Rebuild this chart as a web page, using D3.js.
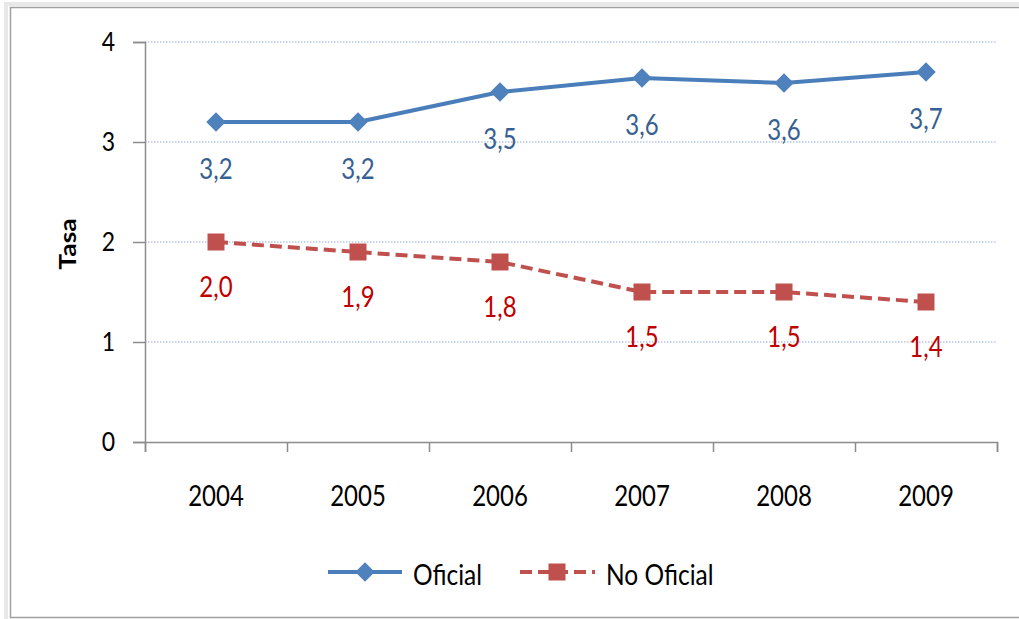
<!DOCTYPE html>
<html><head><meta charset="utf-8">
<script src="https://cdn.jsdelivr.net/npm/d3@7/dist/d3.min.js"></script>
<style>
html,body{margin:0;padding:0;background:#fff;overflow:hidden;}
svg{display:block;font-family:Lato,"Open Sans",sans-serif;}
</style></head>
<body>
<svg id="chart" width="1019" height="619"></svg>
<script>
const years = ["2004","2005","2006","2007","2008","2009"];
const oficial = [3.2, 3.2, 3.5, 3.64, 3.59, 3.7];
const oficialLabels = ["3,2","3,2","3,5","3,6","3,6","3,7"];
const noOficial = [2.0, 1.9, 1.8, 1.5, 1.5, 1.4];
const noOficialLabels = ["2,0","1,9","1,8","1,5","1,5","1,4"];
const yTicks = [0, 1, 2, 3, 4];
const seriesNames = ["Oficial", "No Oficial"];
const yTitle = "Tasa";

const svg = d3.select("#chart");
const SY = 1.2; // vertical text stretch

// outer frame (left, top, bottom edges only; right edge is off-canvas)
svg.append("path").attr("d", "M1019,4 H6 V619")
  .attr("fill","none").attr("stroke","#e8e8e8").attr("stroke-width",4);
svg.append("path").attr("d", "M1019,7.5 H10.5 V617.5 H1019")
  .attr("fill","none").attr("stroke","#a0a0a0").attr("stroke-width",1.5);

const pLeft = 145, pRight = 997, pTop = 42, pBottom = 442;
const x = d3.scaleBand().domain(years).range([pLeft, pRight]).paddingInner(0).paddingOuter(0);
const xb = d3.scaleLinear().domain([0, years.length]).range([pLeft, pRight]);
const y = d3.scaleLinear().domain([0, 4]).range([pBottom, pTop]);
const cx = d => x(d) + x.bandwidth() / 2;

// gridlines
svg.append("g").selectAll("line").data(yTicks.filter(t => t > 0)).join("line")
  .attr("x1", pLeft).attr("x2", pRight)
  .attr("y1", d => y(d)).attr("y2", d => y(d))
  .attr("stroke", "#b7c7e6").attr("stroke-width", 1.5).attr("stroke-dasharray", "1.5,1.5");

// y axis
const gy = svg.append("g").attr("transform", `translate(${pLeft},0)`)
  .call(d3.axisLeft(y).tickValues(yTicks).tickSize(12).tickFormat(d3.format("d")));
gy.select(".domain").attr("stroke", "#8c8c8c").attr("stroke-width", 1.5);
gy.selectAll(".tick line").attr("stroke", "#8c8c8c").attr("stroke-width", 1.5);
gy.selectAll(".tick text").attr("x", -30).attr("dy", null).attr("y", 7.4)
  .attr("transform", `scale(1,${SY})`)
  .attr("font-size", 23).attr("fill", "#000").attr("font-family", "Lato");

// x axis boundary ticks
const gxb = svg.append("g").attr("transform", `translate(0,${pBottom})`)
  .call(d3.axisBottom(xb).ticks(years.length).tickSize(10).tickFormat(""));
gxb.select(".domain").attr("stroke", "#8c8c8c").attr("stroke-width", 1.5);
gxb.selectAll(".tick line").attr("stroke", "#8c8c8c").attr("stroke-width", 1.5);

// x axis labels
const gx = svg.append("g").attr("transform", `translate(0,${pBottom})`)
  .call(d3.axisBottom(x).tickSize(0));
gx.select(".domain").remove();
gx.selectAll(".tick text").attr("y", 64 / SY).attr("dy", null)
  .attr("transform", `scale(1,${SY})`)
  .attr("font-size", 24).attr("fill", "#000").attr("font-family", "Lato");

// y title
svg.append("text").attr("transform", `translate(76,244) scale(1,${SY}) rotate(-90)`)
  .attr("text-anchor", "middle").attr("font-size", 22).attr("font-weight", "bold")
  .attr("font-family", "Lato").text(yTitle);

const blue = "#4a7ebb", red = "#c0504d";
const line = d3.line().x((d, i) => cx(years[i])).y(d => y(d));

// Oficial
svg.append("path").datum(oficial).attr("d", line).attr("fill", "none")
  .attr("stroke", blue).attr("stroke-width", 4).attr("stroke-linejoin", "round");
const diamond = d3.symbol().type(d3.symbolSquare).size(190);
svg.append("g").selectAll("path").data(oficial).join("path")
  .attr("d", diamond())
  .attr("transform", (d, i) => `translate(${cx(years[i])},${y(d)}) rotate(45)`)
  .attr("fill", "#4f81bd");

// No Oficial
svg.append("path").datum(noOficial).attr("d", line).attr("fill", "none")
  .attr("stroke", red).attr("stroke-width", 4).attr("stroke-dasharray", "12,6");
svg.append("g").selectAll("rect").data(noOficial).join("rect")
  .attr("x", (d, i) => cx(years[i]) - 8.5).attr("y", d => y(d) - 8.5)
  .attr("width", 17).attr("height", 17).attr("fill", red);

// data labels
svg.append("g").selectAll("text").data(oficial).join("text")
  .attr("transform", (d, i) => `translate(${cx(years[i])},${y(d) + 57}) scale(1,${SY})`)
  .attr("text-anchor", "middle").attr("font-size", 24).attr("font-family", "Lato")
  .attr("fill", "#376092").text((d, i) => oficialLabels[i]);
svg.append("g").selectAll("text").data(noOficial).join("text")
  .attr("transform", (d, i) => `translate(${cx(years[i])},${y(d) + 55}) scale(1,${SY})`)
  .attr("text-anchor", "middle").attr("font-size", 24).attr("font-family", "Lato")
  .attr("fill", "#c00000").text((d, i) => noOficialLabels[i]);

// legend
const lg = svg.append("g");
lg.append("line").attr("x1", 328).attr("x2", 402).attr("y1", 572).attr("y2", 572)
  .attr("stroke", blue).attr("stroke-width", 4);
lg.append("path").attr("d", diamond()).attr("transform", "translate(365,572) rotate(45)").attr("fill", "#4f81bd");
lg.append("text").attr("transform", `translate(413,585) scale(1,${SY})`)
  .attr("font-size", 24.5).attr("font-family", "Lato").text(seriesNames[0]);
lg.append("line").attr("x1", 520).attr("x2", 595).attr("y1", 572).attr("y2", 572)
  .attr("stroke", red).attr("stroke-width", 4).attr("stroke-dasharray", "12,6");
lg.append("rect").attr("x", 548.5).attr("y", 563.5).attr("width", 17).attr("height", 17).attr("fill", red);
lg.append("text").attr("transform", `translate(606,585) scale(1,${SY})`)
  .attr("font-size", 24.5).attr("font-family", "Lato").text(seriesNames[1]);
</script>
</body></html>
